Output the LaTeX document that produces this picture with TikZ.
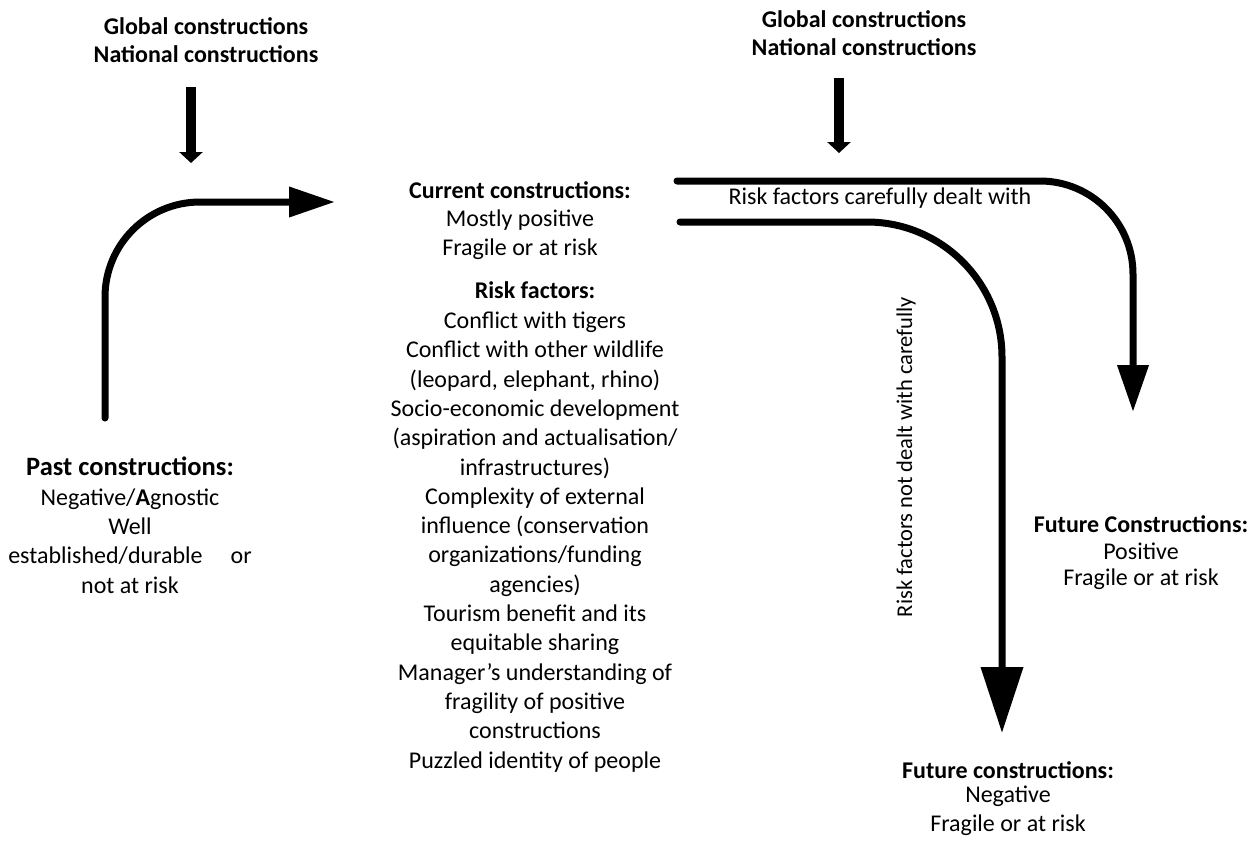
\documentclass[tikz,border=0pt]{standalone}
\usepackage{fontspec}
\setmainfont{Carlito}
\usetikzlibrary{arrows.meta}

\tikzset{
  lbl/.style={inner sep=0pt, align=center, font=\fontsize{24}{29.3}\selectfont},
  flow/.style={line width=7pt, line cap=round},
  feed/.style={line width=10pt, -{Triangle[width=23pt,length=11pt]}},
}

\begin{document}
\begin{tikzpicture}[x=1pt,y=1pt]
\useasboundingbox (0,0) rectangle (1259,-844);

% outside influences (multi-line nodes sit on the baseline of their last line)
\node[lbl, anchor=base, font=\fontsize{24}{28}\selectfont\bfseries] (globL) at (206,-62)
  {Global constructions\\National constructions};
\node[lbl, anchor=base, font=\fontsize{24}{28}\selectfont\bfseries] (globR) at (864,-55)
  {Global constructions\\National constructions};

\coordinate (inL0) at (191,-87);  \coordinate (inL1) at (191,-163);
\coordinate (inR0) at (839,-78);  \coordinate (inR1) at (839,-153);
\draw[feed] (inL0) -- (inL1);
\draw[feed] (inR0) -- (inR1);

% past
\node[lbl, anchor=base] (past) at (130,-593)
  {{\fontsize{26.5}{29}\selectfont\bfseries Past constructions:}\\
   Negative/\textbf{A}gnostic\\
   Well\\
   established/durable\hspace{28pt}or\\
   not at risk};

% present
\node[lbl, anchor=base, font=\fontsize{24}{28.5}\selectfont] (cur) at (520,-255)
  {\textbf{Current constructions:}\\Mostly positive\\Fragile or at risk};
\node[lbl, anchor=base] (risk) at (535,-768)
  {\textbf{Risk factors:}\\[0.7pt]
   Conflict with tigers\\
   Conflict with other wildlife\\
   (leopard, elephant, rhino)\\
   Socio-economic development\\
   (aspiration and actualisation/\\
   infrastructures)\\
   Complexity of external\\
   influence (conservation\\
   organizations/funding\\
   agencies)\\
   Tourism benefit and its\\
   equitable sharing\\
   Manager’s understanding of\\
   fragility of positive\\
   constructions\\
   Puzzled identity of people};

% futures
\node[lbl, anchor=base] (futP) at (1141,-585)
  {\textbf{Future Constructions:}\\[-2pt]Positive\\[-4pt]Fragile or at risk};
\node[lbl, anchor=base] (futN) at (1008,-831)
  {\textbf{Future constructions:}\\[-5pt]Negative\\[-1pt]Fragile or at risk};

% path labels
\node[lbl, anchor=base] (dealt) at (880,-204) {Risk factors carefully dealt with};
\node[lbl, rotate=90, font=\fontsize{22.5}{27}\selectfont] (notdealt) at (906,-457)
  {Risk factors not dealt with carefully};

% flows
\coordinate (p0) at (105,-418); \coordinate (p1) at (335,-202);
\draw[flow, rounded corners=95pt, -{Triangle[width=29pt,length=46pt]}] (p0) |- (p1);

\coordinate (g0) at (677,-181); \coordinate (g1) at (1133,-412);
\draw[flow, rounded corners=93pt, -{Triangle[width=30pt,length=47pt]}] (g0) -| (g1);

\coordinate (b0) at (680,-222); \coordinate (b1) at (1002,-733);
\draw[flow, rounded corners=135pt, -{Triangle[width=41pt,length=66pt]}] (b0) -| (b1);
\end{tikzpicture}
\end{document}
